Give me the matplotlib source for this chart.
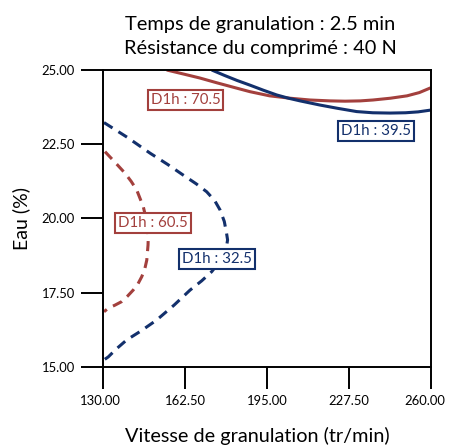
import matplotlib
matplotlib.use("Agg")
import matplotlib.pyplot as plt
from matplotlib.transforms import ScaledTranslation

plt.rcParams['font.family'] = ['Lato', 'DejaVu Sans']

RED = "#A3403D"
BLUE = "#13306C"

# Axis ranges and tick labels
x_ticks = [130.00, 162.50, 195.00, 227.50, 260.00]
y_ticks = [15.00, 17.50, 20.00, 22.50, 25.00]

# Contour D1h = 70.5 (solid, red)
c705_x = [155.1, 162.0, 168.3, 175.0, 182.0, 188.2, 196.0, 204.1, 212.0, 220.0, 226.0, 232.0, 237.1, 244.0, 250.6, 255.5, 260.0]
c705_y = [25.00, 24.86, 24.73, 24.57, 24.41, 24.27, 24.13, 24.05, 23.99, 23.96, 23.95, 23.96, 23.99, 24.05, 24.13, 24.24, 24.40]

# Contour D1h = 39.5 (solid, blue)
c395_x = [173.0, 178.0, 183.0, 188.2, 193.5, 198.8, 203.5, 208.1, 216.0, 223.0, 230.6, 237.0, 243.8, 250.0, 255.0, 260.0]
c395_y = [25.00, 24.82, 24.65, 24.49, 24.32, 24.16, 24.05, 23.96, 23.82, 23.71, 23.60, 23.56, 23.55, 23.56, 23.59, 23.65]

# Contour D1h = 60.5 (dashed, red)
c605_x = [130.6, 134.5, 138.5, 141.0, 143.2, 145.8, 147.2, 147.8, 147.7, 147.2, 146.4, 145.2, 143.7, 141.8, 139.6, 137.2, 134.5, 131.9, 130.2]
c605_y = [22.25, 21.90, 21.53, 21.25, 20.96, 20.40, 19.90, 19.39, 19.11, 18.60, 18.30, 18.04, 17.80, 17.59, 17.39, 17.20, 17.08, 16.98, 16.86]

# Contour D1h = 32.5 (dashed, blue)
c325_x = [130.2, 139.5, 148.5, 155.5, 161.7, 166.8, 171.0, 174.2, 176.3, 178.0, 178.9, 179.3, 178.8, 176.6, 173.0, 169.0, 164.4, 158.0, 151.1, 145.0, 139.2, 135.0, 131.9, 130.2]
c325_y = [23.23, 22.73, 22.20, 21.82, 21.46, 21.17, 20.90, 20.60, 20.29, 19.90, 19.50, 19.28, 19.00, 18.60, 18.21, 17.90, 17.59, 17.08, 16.58, 16.22, 15.91, 15.60, 15.34, 15.24]

# Contour label text and anchor positions
labels = ["D1h : 70.5", "D1h : 39.5", "D1h : 60.5", "D1h : 32.5"]
label_x = [162.6, 238.1, 149.7, 175.1]
label_y = [23.99, 22.96, 19.85, 18.62]
label_colors = [RED, BLUE, RED, BLUE]

fig = plt.figure(figsize=(4.49, 4.45), dpi=100)
ax = fig.add_axes([0.2305, 0.1753, 0.7287, 0.6674])

lw = 2.2
dash = (0, (3.3, 2.3))
ax.plot(c705_x, c705_y, color=RED, lw=lw, solid_capstyle='butt')
ax.plot(c395_x, c395_y, color=BLUE, lw=lw, solid_capstyle='butt')
ax.plot(c605_x, c605_y, color=RED, lw=lw, linestyle=dash)
ax.plot(c325_x, c325_y, color=BLUE, lw=lw, linestyle=dash)

for txt, lx, ly, col in zip(labels, label_x, label_y, label_colors):
    ax.text(lx, ly, txt, color=col, fontsize=10.8, ha='center', va='center',
            bbox=dict(boxstyle='square,pad=0.2', facecolor='white',
                      edgecolor=col, linewidth=1.5), zorder=5)

ax.set_xlim(130, 260)
ax.set_ylim(15, 25)
ax.set_xticks(x_ticks)
ax.set_yticks(y_ticks)
ax.set_xticklabels([f"{v:.2f}" for v in x_ticks])
ax.set_yticklabels([f"{v:.2f}" for v in y_ticks])
ax.tick_params(direction='out', length=15.5, width=1.4, labelsize=9.4,
               pad=5, color='black')
for s in ax.spines.values():
    s.set_linewidth(1.4)

# keep the outermost x tick labels inside the figure
xlabels = ax.get_xticklabels()
xlabels[0].set_transform(xlabels[0].get_transform() +
                         ScaledTranslation(-3 / 100, 0, fig.dpi_scale_trans))
xlabels[-1].set_transform(xlabels[-1].get_transform() +
                          ScaledTranslation(-6 / 100, 0, fig.dpi_scale_trans))

ax.set_ylabel("Eau (%)", fontsize=14, labelpad=8)
fig.text(0.574, 0.021, "Vitesse de granulation (tr/min)", ha='center',
         va='center', fontsize=14.3)

fig.text(0.58, 0.946, "Temps de granulation : 2.5 min", ha='center',
         va='center', fontsize=14.4)
fig.text(0.58, 0.892, "Résistance du comprimé : 40 N", ha='center',
         va='center', fontsize=14.4)

fig.savefig("out.png", dpi=100)
